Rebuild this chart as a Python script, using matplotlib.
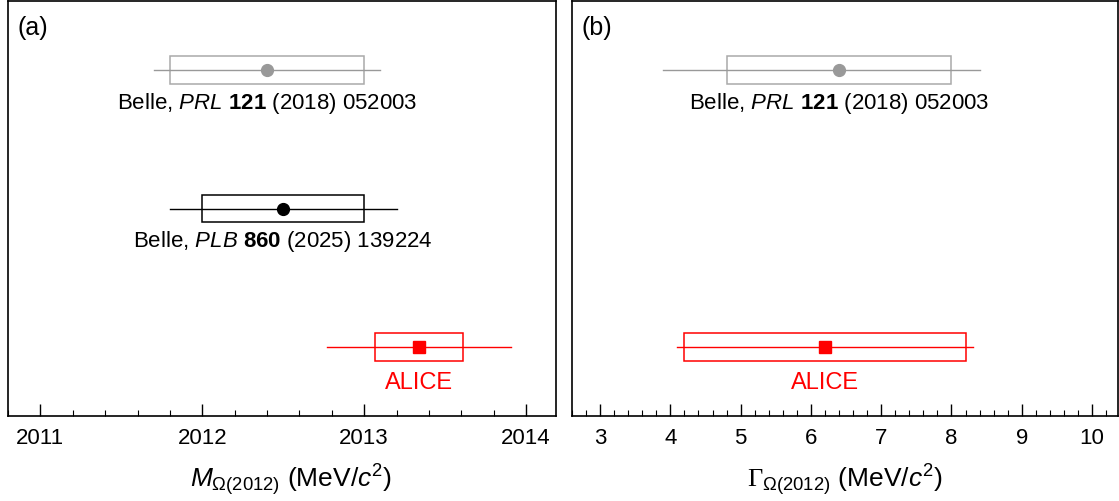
import numpy as np
import matplotlib.pyplot as plt
from matplotlib.patches import Rectangle
from matplotlib.ticker import MultipleLocator

plt.rcParams['font.family'] = ['Liberation Sans', 'DejaVu Sans']
plt.rcParams['mathtext.fontset'] = 'custom'
plt.rcParams['mathtext.rm'] = 'Liberation Sans'
plt.rcParams['mathtext.it'] = 'Liberation Sans:italic'
plt.rcParams['mathtext.bf'] = 'Liberation Sans:bold'
plt.rcParams['mathtext.sf'] = 'Liberation Serif'

# measurements, top to bottom
labels = [r"Belle, $\mathit{PRL}$ $\mathbf{121}$ (2018) 052003",
          r"Belle, $\mathit{PLB}$ $\mathbf{860}$ (2025) 139224",
          "ALICE"]
colors = ["#999999", "black", "red"]
markers = ["o", "o", "s"]
rows = [2.5, 1.5, 0.5]

# mass (MeV/c^2)
mass = [2012.4, 2012.5, 2013.34]
mass_stat_lo = [0.7, 0.7, 0.57]
mass_stat_hi = [0.7, 0.7, 0.57]
mass_syst = [0.6, 0.5, 0.27]

# width (MeV/c^2), no PLB entry
width_rows = [2.5, 0.5]
width_labels = [labels[0], labels[2]]
width_colors = [colors[0], colors[2]]
width_markers = [markers[0], markers[2]]
width = [6.4, 6.2]
width_stat_lo = [2.5, 2.1]
width_stat_hi = [2.0, 2.1]
width_syst = [1.6, 2.0]


def draw(ax, ys, vals, lo, hi, syst, cols, marks, labs):
    for y, v, l, h, s, c, m, t in zip(ys, vals, lo, hi, syst, cols, marks, labs):
        box_c = "#aaaaaa" if c == "#999999" else c
        ax.add_patch(Rectangle((v - s, y - 0.1), 2 * s, 0.2, fill=False,
                               edgecolor=box_c, lw=1.1, zorder=2))
        ax.plot([v - l, v + h], [y, y], color=c, lw=1.0, zorder=3)
        ax.plot(v, y, marker=m, color=c, ms=8.5 if m == "o" else 8, zorder=4)
        tc = "red" if c == "red" else "black"
        fs = 17 if t == "ALICE" else 16
        dy = 0.26 if t == "ALICE" else 0.24
        ax.text(v, y - dy, t, ha="center", va="center", color=tc, fontsize=fs)


def style(ax, major, minor):
    ax.set_ylim(0, 3)
    ax.set_yticks([])
    ax.xaxis.set_major_locator(MultipleLocator(major))
    ax.xaxis.set_minor_locator(MultipleLocator(minor))
    ax.tick_params(axis="x", which="major", direction="in", length=9, width=1.0,
                   labelsize=16, pad=9)
    ax.tick_params(axis="x", which="minor", direction="in", length=4.5, width=0.8)
    for sp in ax.spines.values():
        sp.set_linewidth(1.2)


fig = plt.figure(figsize=(11.19, 5.01), dpi=100)
W, H = 1119, 501
ax1 = fig.add_axes([8 / W, 85 / H, 548 / W, 415 / H])
ax2 = fig.add_axes([572 / W, 85 / H, 546 / W, 415 / H])

draw(ax1, rows, mass, mass_stat_lo, mass_stat_hi, mass_syst, colors, markers, labels)
ax1.set_xlim(2010.8, 2014.185)
style(ax1, 1, 0.2)
ax1.set_xlabel(r"$M_{\Omega(2012)}$ (MeV/$c^2$)", fontsize=19, labelpad=9)
ax1.xaxis.label.set_x(0.516)
ax1.text(0.018, 0.935, "(a)", transform=ax1.transAxes, fontsize=18, va="center")

draw(ax2, width_rows, width, width_stat_lo, width_stat_hi, width_syst,
     width_colors, width_markers, width_labels)
ax2.set_xlim(2.6, 10.37)
style(ax2, 1, 0.2)
ax2.set_xlabel(r"$\mathsf{\Gamma}_{\Omega(2012)}$ (MeV/$c^2$)", fontsize=19, labelpad=9)
ax2.text(0.018, 0.935, "(b)", transform=ax2.transAxes, fontsize=18, va="center")

fig.savefig("out.png", dpi=100)
